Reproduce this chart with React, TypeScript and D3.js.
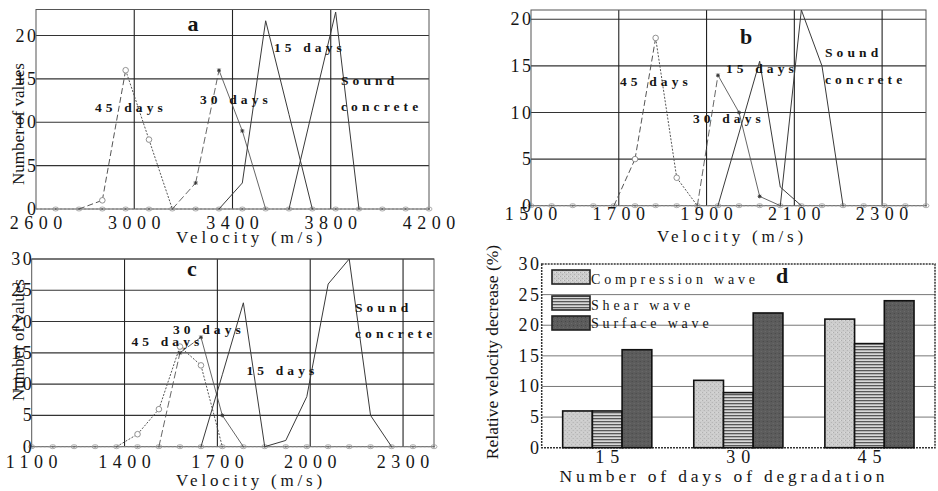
import React from 'react';
import * as d3 from 'd3';

// ---------- DATA ----------
// Panel a
const aBins = [2680, 2775, 2870, 2965, 3060, 3155, 3250, 3345, 3440, 3535, 3630, 3725, 3820, 3915, 4010, 4105, 4200];
const a45 = [0, 0, 1, 16, 8, 0, 0, 0, 0, 0, 0, 0, 0, 0, 0, 0, 0];
const a30 = [0, 0, 0, 0, 0, 0, 3, 16, 9, 0, 0, 0, 0, 0, 0, 0, 0];
const a15 = [0, 0, 0, 0, 0, 0, 0, 0, 3, 21.7, 10.9, 0, 0, 0, 0, 0, 0];
const aSound = [0, 0, 0, 0, 0, 0, 0, 0, 0, 0, 0, 11.4, 22.7, 0, 0, 0, 0];
const aXTicks = [2600, 3000, 3400, 3800, 4200];
const aYTicks = [0, 5, 10, 15, 20];

// Panel b
const bBins = [1500, 1547, 1595, 1642, 1689, 1737, 1784, 1832, 1879, 1926, 1974, 2021, 2068, 2116, 2163, 2211, 2258, 2305, 2353, 2400];
const b45 = [0, 0, 0, 0, 0, 5, 18, 3, 0, 0, 0, 0, 0, 0, 0, 0, 0, 0, 0, 0];
const b30 = [0, 0, 0, 0, 0, 0, 0, 0, 0, 14, 10, 1, 0, 0, 0, 0, 0, 0, 0, 0];
const b15 = [0, 0, 0, 0, 0, 0, 0, 0, 0, 0, 7.8, 15.5, 2, 0, 0, 0, 0, 0, 0, 0];
const bSound = [0, 0, 0, 0, 0, 0, 0, 0, 0, 0, 0, 0, 0, 21, 15, 0, 0, 0, 0, 0];
const bXTicks = [1500, 1700, 1900, 2100, 2300];
const bYTicks = [0, 5, 10, 15, 20];

// Panel c
const cBins = [1100, 1168, 1237, 1305, 1374, 1442, 1511, 1579, 1647, 1716, 1784, 1853, 1921, 1989, 2058, 2126, 2195, 2263, 2332, 2400];
const c45 = [0, 0, 0, 0, 0, 2, 6, 16, 13, 0, 0, 0, 0, 0, 0, 0, 0, 0, 0, 0];
const c30 = [0, 0, 0, 0, 0, 0, 0, 15, 17.5, 5, 0, 0, 0, 0, 0, 0, 0, 0, 0, 0];
const c15 = [0, 0, 0, 0, 0, 0, 0, 0, 0, 11.5, 23, 0, 0, 0, 0, 0, 0, 0, 0, 0];
const cSound = [0, 0, 0, 0, 0, 0, 0, 0, 0, 0, 0, 0, 1, 8, 26, 30, 5, 0, 0, 0];
const cXTicks = [1100, 1400, 1700, 2000, 2300];
const cYTicks = [0, 5, 10, 15, 20, 25, 30];

// Panel d
const dCategories = ['15', '30', '45'];
const dCompression = [6, 11, 21];
const dShear = [6, 9, 17];
const dSurface = [16, 22, 24];
const dYTicks = [0, 5, 10, 15, 20, 25, 30];
const dLegend = ['Compression wave', 'Shear wave', 'Surface wave'];

// ---------- STYLE ----------
const FONT = '"Liberation Serif", "Times New Roman", Times, serif';
const INK = '#151515';

type Kind = '45' | '30' | '15' | 'sound';
type Label = { text: string; x: number; y: number };

interface LinePanelProps {
  bins: number[];
  series: { values: number[]; kind: Kind }[];
  left: number; right: number; top: number; bottom: number;
  xDomain: [number, number]; yMax: number;
  xTicks: number[]; yTicks: number[];
  xTickBaseline: number; xTitleBaseline: number; xTitleX: number;
  letter: Label; labels: Label[];
  yTitle?: { x: number; y: number };
  riseDash45: boolean;
}

function SpacedText({ x, y, text, size, ls, anchor = 'middle', weight = 'normal', rotate }: any) {
  const dx = anchor === 'middle' ? ls / 2 : anchor === 'end' ? ls : 0;
  return (
    <text x={x} y={y} dx={dx} fontFamily={FONT} fontSize={size} letterSpacing={ls}
      textAnchor={anchor} fontWeight={weight} fill={INK}
      transform={rotate ? `rotate(${rotate},${x},${y})` : undefined}>{text}</text>
  );
}

function LinePanel(p: LinePanelProps) {
  const x = d3.scaleLinear().domain(p.xDomain).range([p.left, p.right]);
  const y = d3.scaleLinear().domain([0, p.yMax]).range([p.bottom, p.top]);
  const line = d3.line<[number, number]>().x(d => x(d[0])).y(d => y(d[1]));
  const segs: React.ReactNode[] = [];
  const marks: React.ReactNode[] = [];
  p.series.forEach((s, si) => {
    for (let i = 0; i < s.values.length - 1; i++) {
      const a = s.values[i], b = s.values[i + 1];
      if (a === 0 && b === 0) continue;
      const rising = b > a;
      let dash: string | undefined;
      let color = '#4a4a4a';
      let w = 1;
      if (s.kind === '45') {
        dash = rising && p.riseDash45 ? '6,3' : '2,1.5';
        color = '#555';
      } else if (s.kind === '30') {
        dash = rising ? '7,3' : undefined;
        color = '#555';
        w = 0.9;
      } else {
        color = '#3a3a3a';
      }
      segs.push(
        <path key={`s${si}-${i}`} d={line([[p.bins[i], a], [p.bins[i + 1], b]]) || ''}
          fill="none" stroke={color} strokeWidth={w} strokeDasharray={dash} />
      );
    }
    s.values.forEach((v, i) => {
      if (v === 0) return;
      const cx = x(p.bins[i]), cy = y(v);
      if (s.kind === '45') {
        marks.push(<circle key={`m${si}-${i}`} cx={cx} cy={cy} r={2.8} fill="#fff" stroke="#777" strokeWidth={0.8} />);
      } else if (s.kind === '30') {
        marks.push(
          <path key={`m${si}-${i}`} d={`M${cx - 2},${cy}L${cx + 2},${cy}M${cx},${cy - 2}L${cx},${cy + 2}M${cx - 1.5},${cy - 1.5}L${cx + 1.5},${cy + 1.5}M${cx - 1.5},${cy + 1.5}L${cx + 1.5},${cy - 1.5}`}
            stroke="#333" strokeWidth={0.9} />
        );
      }
    });
  });
  const y0 = y(0);
  return (
    <g>
      {p.yTicks.filter(t => t > 0).map(t => (
        <line key={`gy${t}`} x1={p.left} x2={p.right} y1={y(t)} y2={y(t)} stroke="#333" strokeWidth={1.1} />
      ))}
      {p.xTicks.filter(t => t > p.xDomain[0] && t < p.xDomain[1]).map(t => (
        <line key={`gx${t}`} x1={x(t)} x2={x(t)} y1={p.top} y2={p.bottom} stroke="#222" strokeWidth={1.1} />
      ))}
      <rect x={p.left} y={p.top} width={p.right - p.left} height={p.bottom - p.top} fill="none" stroke="#555" strokeWidth={1} />
      <line x1={p.left} x2={p.right} y1={y0} y2={y0} stroke="#888" strokeWidth={1} strokeDasharray="2,2" />
      {p.bins.map((b, i) => (
        <g key={`z${i}`}>
          <ellipse cx={x(b)} cy={y0} rx={3} ry={2} fill="none" stroke="#999" strokeWidth={0.8} />
          <circle cx={x(b)} cy={y0} r={0.9} fill="#666" />
        </g>
      ))}
      {segs}
      {marks}
      {p.xTicks.map(t => (
        <SpacedText key={`xt${t}`} x={x(t)} y={p.xTickBaseline} text={String(t)} size={18} ls={5.5} />
      ))}
      {p.yTicks.map(t => (
        <SpacedText key={`yt${t}`} x={p.left} y={y(t) + 6} text={String(t)} size={18} ls={2.5} anchor="end" />
      ))}
      <SpacedText x={p.xTitleX} y={p.xTitleBaseline} text="Velocity (m/s)" size={17} ls={3.8} />
      {p.yTitle && (
        <text x={p.yTitle.x} y={p.yTitle.y} fontFamily={FONT} fontSize={17} textAnchor="middle" fill={INK}
          transform={`rotate(-90,${p.yTitle.x},${p.yTitle.y})`} dy="0.35em">Number of values</text>
      )}
      <text x={p.letter.x} y={p.letter.y} fontFamily={FONT} fontSize={22} fontWeight="bold" textAnchor="middle" fill={INK}>{p.letter.text}</text>
      {p.labels.map((l, i) => (
        <SpacedText key={`l${i}`} x={l.x} y={l.y} text={l.text} size={13.5} ls={4.1} anchor="start" weight="bold" />
      ))}
    </g>
  );
}

function BarPanel() {
  const left = 541.7, right = 935, top = 264, bottom = 447.7;
  const x = d3.scaleBand().domain(dCategories).range([left, right]).paddingInner(0.32).paddingOuter(0.16);
  const keys = ['compression', 'shear', 'surface'];
  const xs = d3.scaleBand().domain(keys).range([0, x.bandwidth()]);
  const y = d3.scaleLinear().domain([0, 30]).range([bottom, top]);
  const rows = dCategories.map((c, i) => ({ c, compression: dCompression[i], shear: dShear[i], surface: dSurface[i] }));
  const fills: Record<string, string> = { compression: 'url(#pComp)', shear: 'url(#pShear)', surface: 'url(#pSurf)' };
  const legendY = [270, 296, 316];
  const legendBase = [284, 309.5, 327.5];
  return (
    <g>
      <defs>
        <pattern id="pComp" width="4" height="4" patternUnits="userSpaceOnUse">
          <rect width="4" height="4" fill="#cdcdcd" />
          <rect x="0" y="0" width="1" height="1" fill="#a8a8a8" />
          <rect x="2" y="2" width="1" height="1" fill="#b0b0b0" />
          <rect x="3" y="0" width="1" height="1" fill="#e2e2e2" />
        </pattern>
        <pattern id="pShear" width="4" height="3" patternUnits="userSpaceOnUse">
          <rect width="4" height="3" fill="#d8d8d8" />
          <rect x="0" y="1" width="4" height="1.3" fill="#575757" />
        </pattern>
        <pattern id="pSurf" width="4" height="4" patternUnits="userSpaceOnUse">
          <rect width="4" height="4" fill="#5c5c5c" />
          <rect x="1" y="1" width="1" height="1" fill="#474747" />
          <rect x="3" y="3" width="1" height="1" fill="#6c6c6c" />
        </pattern>
      </defs>
      {dYTicks.filter(t => t > 0 && t < 30).map(t => (
        <line key={`g${t}`} x1={left} x2={right} y1={y(t)} y2={y(t)} stroke="#777" strokeWidth={1} />
      ))}
      <rect x={left} y={top} width={right - left} height={bottom - top} fill="none" stroke="#333" strokeWidth={1.5} strokeDasharray="2,1" />
      {rows.map(r => (
        <g key={r.c} transform={`translate(${x(r.c)},0)`}>
          {keys.map(k => (
            <rect key={k} x={xs(k)} y={y((r as any)[k])} width={xs.bandwidth()} height={bottom - y((r as any)[k])}
              fill={fills[k]} stroke="#111" strokeWidth={1.6} />
          ))}
        </g>
      ))}
      {keys.map((k, i) => (
        <g key={`lg${k}`}>
          <rect x={552} y={legendY[i]} width={38} height={14} fill={fills[k]} stroke="#222" strokeWidth={1.6} />
          <SpacedText x={591} y={legendBase[i]} text={dLegend[i]} size={14} ls={3.8} anchor="start" />
        </g>
      ))}
      <text x={782} y={283} fontFamily={FONT} fontSize={22} fontWeight="bold" textAnchor="middle" fill={INK}>d</text>
      {dCategories.map(c => (
        <SpacedText key={`xt${c}`} x={(x(c) as number) + x.bandwidth() / 2} y={463} text={c} size={18} ls={6} />
      ))}
      {dYTicks.map(t => (
        <SpacedText key={`yt${t}`} x={539} y={y(t) + 6} text={String(t)} size={18} ls={2.5} anchor="end" />
      ))}
      <SpacedText x={722} y={482} text="Number of days of degradation" size={17.5} ls={3.8} />
      <text x={492} y={352} fontFamily={FONT} fontSize={17.5} textAnchor="middle" fill={INK} dy="0.35em"
        transform="rotate(-90,492,352)">Relative velocity decrease (%)</text>
    </g>
  );
}

export default function App() {
  return (
    <svg width={938} height={491} viewBox="0 0 938 491"
      style={{ position: 'absolute', left: 0, top: 0, background: '#fff' }}>
      <rect width={938} height={491} fill="#fff" />
      <LinePanel bins={aBins}
        series={[{ values: a45, kind: '45' }, { values: a30, kind: '30' }, { values: a15, kind: '15' }, { values: aSound, kind: 'sound' }]}
        left={36} right={429} top={9.5} bottom={209} xDomain={[2600, 4200]} yMax={23}
        xTicks={aXTicks} yTicks={aYTicks} xTickBaseline={228.5} xTitleBaseline={243} xTitleX={249}
        letter={{ text: 'a', x: 193, y: 31 }}
        labels={[
          { text: '45 days', x: 95, y: 111.5 }, { text: '30 days', x: 200, y: 103.5 },
          { text: '15 days', x: 274, y: 52 }, { text: 'Sound', x: 341, y: 85 }, { text: 'concrete', x: 341, y: 111 },
        ]}
        yTitle={{ x: 18, y: 124 }} riseDash45={true} />
      <LinePanel bins={bBins}
        series={[{ values: b45, kind: '45' }, { values: b30, kind: '30' }, { values: b15, kind: '15' }, { values: bSound, kind: 'sound' }]}
        left={531} right={926} top={10} bottom={205.7} xDomain={[1500, 2400]} yMax={21}
        xTicks={bXTicks} yTicks={bYTicks} xTickBaseline={220} xTitleBaseline={241.5} xTitleX={730}
        letter={{ text: 'b', x: 746, y: 44 }}
        labels={[
          { text: '45 days', x: 620, y: 86 }, { text: '15 days', x: 726, y: 72.5 },
          { text: '30 days', x: 693, y: 123 }, { text: 'Sound', x: 825, y: 56.5 }, { text: 'concrete', x: 825, y: 83.5 },
        ]}
        riseDash45={true} />
      <LinePanel bins={cBins}
        series={[{ values: c45, kind: '45' }, { values: c30, kind: '30' }, { values: c15, kind: '15' }, { values: cSound, kind: 'sound' }]}
        left={31.7} right={434} top={259} bottom={446.7} xDomain={[1100, 2400]} yMax={30}
        xTicks={cXTicks} yTicks={cYTicks} xTickBaseline={468} xTitleBaseline={485.5} xTitleX={249}
        letter={{ text: 'c', x: 192, y: 276 }}
        labels={[
          { text: '30 days', x: 173, y: 333.5 }, { text: '45 days', x: 131.5, y: 346 },
          { text: '15 days', x: 246.5, y: 375 }, { text: 'Sound', x: 355, y: 312 }, { text: 'concrete', x: 355, y: 337.5 },
        ]}
        yTitle={{ x: 18, y: 340 }} riseDash45={false} />
      <BarPanel />
    </svg>
  );
}
